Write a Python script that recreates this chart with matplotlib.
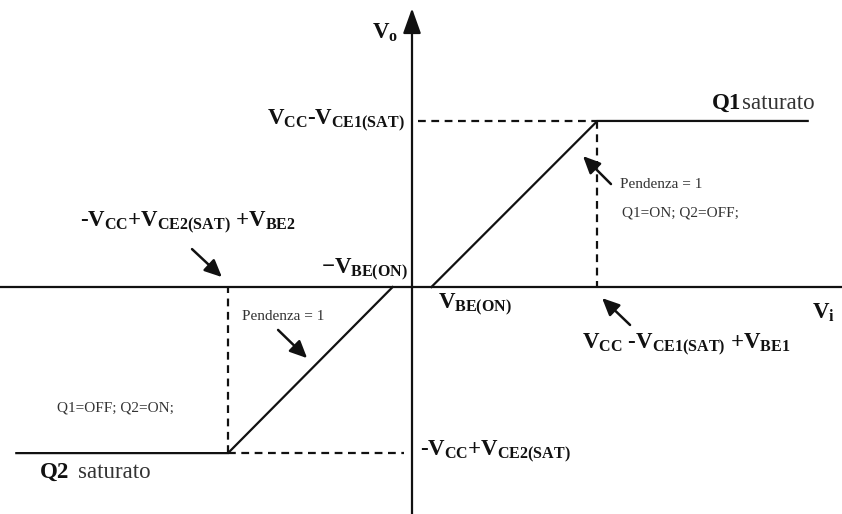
import matplotlib
matplotlib.use("Agg")
import matplotlib.pyplot as plt

plt.rcParams['font.family'] = ['Liberation Serif', 'DejaVu Serif']
plt.rcParams['mathtext.fontset'] = 'custom'
plt.rcParams['mathtext.rm'] = 'Liberation Serif:bold'
plt.rcParams['mathtext.it'] = 'Liberation Serif:bold'
plt.rcParams['mathtext.bf'] = 'Liberation Serif:bold'

# ---- data (arbitrary voltage units) ----
vbe_on = 0.7
vo_sat_hi = 6.0       # Vcc - Vce1(sat)
vo_sat_lo = -6.0      # -Vcc + Vce2(sat)
vi_pos = [vbe_on, 6.7, 14.3]
vo_pos = [0.0, vo_sat_hi, vo_sat_hi]
vi_neg = [-14.3, -6.65, -vbe_on]
vo_neg = [vo_sat_lo, vo_sat_lo, 0.0]

xlim = (-14.89, 15.54)
ylim = (-8.20, 10.37)

fig = plt.figure(figsize=(8.42, 5.14), dpi=100)
ax = fig.add_axes([0, 0, 1, 1])
ax.set_xlim(*xlim)
ax.set_ylim(*ylim)
ax.axis('off')

K = '#111111'
G = '#333333'
lw = 1.6

# axes
ax.plot([xlim[0], xlim[1]], [0, 0], color=K, lw=lw)
ax.annotate('', xy=(0, 10.07), xytext=(0, ylim[0]),
            arrowprops=dict(arrowstyle='-|>,head_length=0.7,head_width=0.25', lw=lw,
                            color=K, shrinkA=0, shrinkB=0, mutation_scale=22))

# characteristic
ax.plot(vi_pos, vo_pos, color=K, lw=lw, solid_joinstyle='miter')
ax.plot(vi_neg, vo_neg, color=K, lw=lw, solid_joinstyle='miter')

# dashed guides
ds = (0, (3.5, 2.5))
ax.plot([0.2, vi_pos[1]], [vo_sat_hi, vo_sat_hi], color=K, lw=lw, ls=ds)
ax.plot([vi_pos[1], vi_pos[1]], [vo_sat_hi, 0], color=K, lw=lw, ls=ds)
ax.plot([vi_neg[1], -0.3], [vo_sat_lo, vo_sat_lo], color=K, lw=lw, ls=ds)
ax.plot([vi_neg[1], vi_neg[1]], [vo_sat_lo, 0], color=K, lw=lw, ls=ds)

BIG = 16.5
SMALL = 11

def arrow(tail, head):
    ax.annotate('', xy=head, xytext=tail,
                arrowprops=dict(arrowstyle='-|>,head_length=0.65,head_width=0.3', lw=1.8,
                                color=K, shrinkA=0, shrinkB=0, mutation_scale=16))

# labels
ax.text(-0.98, 9.18, r'$V_o$', fontsize=BIG, ha='center', va='center', color=K)
ax.text(14.46, -0.94, r'$V_i$', fontsize=BIG, ha='left', va='center', color=K)
ax.text(-0.25, vo_sat_hi, r'$V_{CC}$-$V_{CE1(SAT)}$', fontsize=BIG, ha='right', va='center',
        color=K, fontweight='bold')
ax.text(10.84, 6.62, 'Q1', fontsize=BIG, ha='left', va='center', color=K, fontweight='bold')
ax.text(11.93, 6.62, 'saturato', fontsize=BIG, ha='left', va='center', color=G)

ax.text(7.52, 3.69, 'Pendenza = 1', fontsize=SMALL, ha='left', va='center', color=G)
ax.text(7.59, 2.67, 'Q1=ON; Q2=OFF;', fontsize=SMALL, ha='left', va='center', color=G)
arrow((7.19, 3.72), (6.18, 4.73))

ax.text(-12.0, 2.31, r'-$V_{CC}$+$V_{CE2(SAT)}$ +$V_{BE2}$', fontsize=BIG, ha='left',
        va='center', color=K, fontweight='bold')
arrow((-7.95, 1.37), (-6.87, 0.36))

ax.text(-0.14, 0.61, r'$-V_{BE(ON)}$', fontsize=BIG, ha='right', va='center', color=K)
ax.text(0.94, -0.65, r'$V_{BE(ON)}$', fontsize=BIG, ha='left', va='center', color=K)

ax.text(-6.14, -1.05, 'Pendenza = 1', fontsize=SMALL, ha='left', va='center', color=G)
arrow((-4.84, -1.55), (-3.79, -2.57))
ax.text(-12.83, -4.37, 'Q1=OFF; Q2=ON;', fontsize=SMALL, ha='left', va='center', color=G)

ax.text(6.14, -2.10, r'$V_{CC}$ -$V_{CE1(SAT)}$ +$V_{BE1}$', fontsize=BIG, ha='left',
        va='center', color=K, fontweight='bold')
arrow((7.88, -1.37), (6.87, -0.40))

ax.text(-13.44, -6.69, 'Q2', fontsize=BIG, ha='left', va='center', color=K, fontweight='bold')
ax.text(-12.07, -6.69, 'saturato', fontsize=BIG, ha='left', va='center', color=G)
ax.text(0.29, -5.96, r'-$V_{CC}$+$V_{CE2(SAT)}$', fontsize=BIG, ha='left', va='center',
        color=K, fontweight='bold')

fig.savefig('out.png', dpi=100, facecolor='white')
